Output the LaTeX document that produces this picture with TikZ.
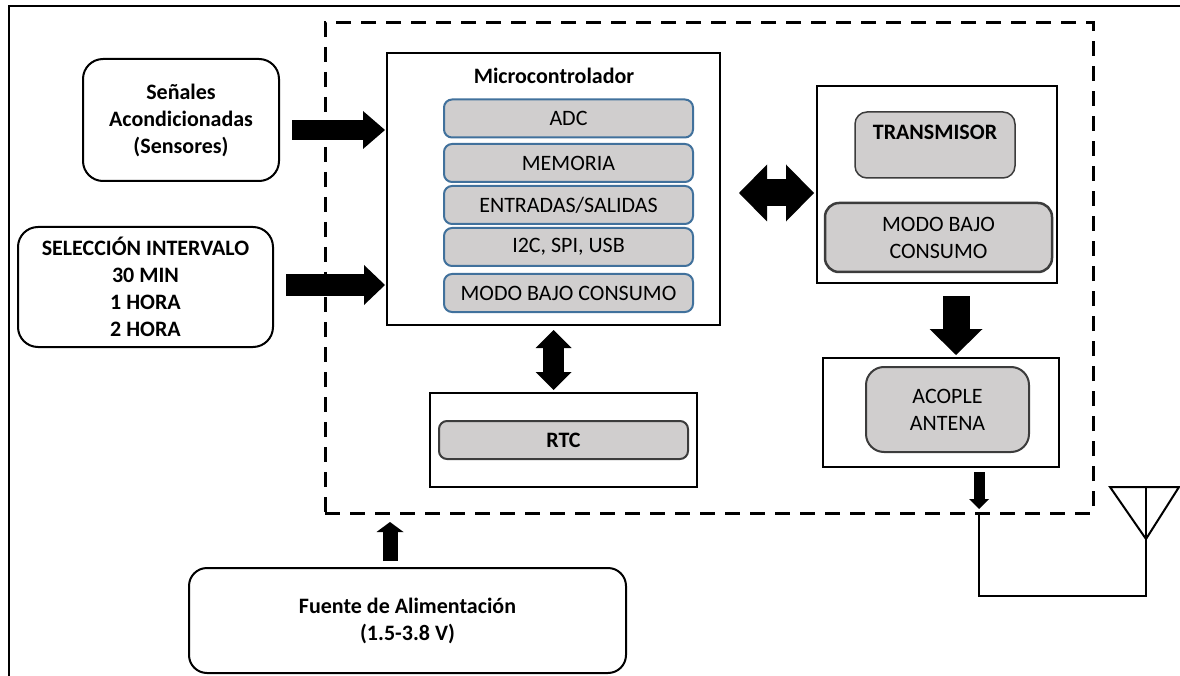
\documentclass[tikz,border=0pt]{standalone}
\usepackage{fontspec}
\setmainfont{Carlito}
\usetikzlibrary{arrows.meta,calc}
\definecolor{cellgray}{RGB}{208,206,206}
\definecolor{cellblue}{RGB}{65,113,156}
\definecolor{edgegray}{RGB}{60,60,60}
\begin{document}
\begin{tikzpicture}[x=1pt,y=-1pt,
  font=\fontsize{22}{27}\selectfont,
  every node/.style={inner sep=0pt, outer sep=0pt},
  boldtext/.style={font=\bfseries\fontsize{22}{27}\selectfont},
  pill/.style={draw, line width=2pt, rounded corners=20pt, align=center, boldtext},
  plainbox/.style={draw, line width=2pt},
  cell/.style={draw=cellblue, fill=cellgray, line width=2pt, rounded corners=8pt,
               minimum width=249pt, minimum height=38pt},
  graycell/.style={draw=edgegray, fill=cellgray, line width=2pt, align=center},
  sysbox/.style={draw, line width=3pt, dash pattern=on 15pt off 10pt},
  oneway/.style n args={3}{draw, line width=#1,
      -{Triangle[width=#2,length=#3,line width=0pt]}},
  twoway/.style n args={3}{draw, line width=#1,
      {Triangle[width=#2,length=#3,line width=0pt]}-{Triangle[width=#2,length=#3,line width=0pt]}},
]
\useasboundingbox (0,0) rectangle (1180,676);

% page frame
\draw[line width=2pt] (9,676) -- (9,6) -- (1180,6);

% system boundary
\node[sysbox, minimum width=768pt, minimum height=490pt] (sys) at (709,268) {};

% inputs
\node[pill, minimum width=196pt, minimum height=122pt] (sen) at (181,120)
  {Señales\\Acondicionadas\\(Sensores)};
\node[pill, minimum width=255pt, minimum height=120pt] (sel) at (145.5,287)
  {SELECCIÓN INTERVALO\\30 MIN\\1 HORA\\2 HORA};

% microcontroller
\node[plainbox, minimum width=333pt, minimum height=272pt] (mcu) at (553.5,189) {};
\node[boldtext] (mcutitle) at (554,76) {Microcontrolador};
\node[cell] (adc) at (568.5,118.5) {ADC};
\node[cell] (mem) at (568.5,163) {MEMORIA};
\node[cell] (io)  at (568.5,205) {ENTRADAS/SALIDAS};
\node[cell] (bus) at (568.5,247) {I2C, SPI, USB};
\node[cell] (low) at (568.5,293) {MODO BAJO CONSUMO};

% transmitter
\node[plainbox, minimum width=240pt, minimum height=197pt] (tx) at (937,184.5) {};
\node[graycell, line width=1.5pt, rounded corners=12pt, minimum width=160pt, minimum height=66pt,
      label={[name=txname, anchor=center, yshift=-20pt, boldtext]north:TRANSMISOR}]
  (txcore) at (935,145) {};
\node[graycell, line width=2.5pt, rounded corners=14pt, minimum width=227pt, minimum height=69pt]
  (txlow) at (938.5,237.5) {MODO BAJO\\CONSUMO};

% antenna coupling
\node[plainbox, minimum width=236pt, minimum height=109pt] (ac) at (941,412.5) {};
\node[graycell, rounded corners=18pt, minimum width=163pt, minimum height=85pt]
  (accore) at (947.5,409.5) {ACOPLE\\ANTENA};

% real-time clock
\node[plainbox, minimum width=267pt, minimum height=94pt] (rtc) at (563.5,440) {};
\node[graycell, boldtext, rounded corners=8pt, minimum width=249pt, minimum height=38pt]
  (rtccore) at (563.5,440) {RTC};

% power supply
\node[pill, rounded corners=18pt, minimum width=437pt, minimum height=105pt] (psu) at (407.5,620.5)
  {Fuente de Alimentación\\(1.5-3.8 V)};

% block arrows
\draw[oneway={20pt}{38pt}{22pt}, shorten <=13pt, shorten >=2pt]
  ($(sen.east)+(0,10)$) -- ($(sen.east -| mcu.west)+(0,10)$);
\draw[oneway={21pt}{40pt}{21pt}, shorten <=13pt, shorten >=2pt]
  ($(sel.east)+(0,-2)$) -- ($(sel.east -| mcu.west)+(0,-2)$);
\draw[twoway={27pt}{57pt}{28pt}, shorten <=19pt, shorten >=3pt]
  ($(mcu.east)+(0,4)$) -- ($(mcu.east -| tx.west)+(0,4)$);
\draw[twoway={21pt}{36pt}{18pt}, shorten <=5pt, shorten >=3pt]
  (mcu.south) -- (mcu.south |- rtc.north);
\draw[oneway={27pt}{53pt}{26pt}, shorten <=13pt, shorten >=3pt]
  ($(tx.south)+(19,0)$) -- ($(tx.south |- ac.north)+(19,0)$);
\draw[oneway={11pt}{20pt}{10pt}, shorten <=5pt, shorten >=4pt]
  ($(ac.south)+(38,0)$) -- ($(ac.south |- sys.south)+(38,0)$);
\draw[oneway={15pt}{27pt}{10pt}, shorten <=7pt, shorten >=9pt]
  ($(psu.north)+(-17.5,0)$) -- ($(psu.north |- sys.south)+(-17.5,0)$);

% antenna feed and symbol
\coordinate (feed) at ($(ac.south |- sys.south)+(38,0)$);
\coordinate (ant) at (1146,539);
\draw[line width=2pt] (feed) -- ++(0,83) -| (ant);
\draw[line width=2pt, line join=miter] (1110,487) -- (1179,487) -- (ant) -- cycle;
\draw[line width=2pt] (ant) -- (ant |- 0,487);
\end{tikzpicture}
\end{document}
